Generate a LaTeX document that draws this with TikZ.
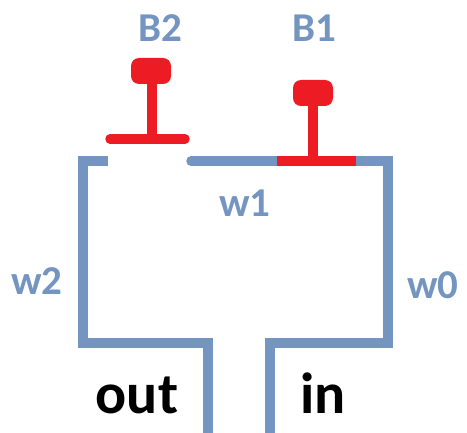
\documentclass[tikz,border=0pt]{standalone}
\usepackage{fontspec}
\usepackage{xcolor}
\setmainfont{Carlito}
\definecolor{wireblue}{RGB}{116,149,192}
\definecolor{btnred}{RGB}{237,28,36}

\begin{document}
\begin{tikzpicture}[x=1pt,y=-1pt,
    wire/.style={draw=wireblue, line width=9.5pt, miter limit=10},
    btn/.style={draw=btnred, line width=9.5pt},
    btnhead/.style={rectangle, fill=btnred, rounded corners=8pt, minimum width=40pt, minimum height=26pt, inner sep=0pt},
    bluelabel/.style={text=wireblue, font=\fontsize{41}{41}\selectfont\bfseries, inner sep=0pt},
    blacklabel/.style={text=black, font=\fontsize{58}{58}\selectfont\bfseries, inner sep=0pt}]
    \useasboundingbox (0,0) rectangle (467,433);

    % Wires
    \coordinate (w2end) at (108,161);
    \coordinate (w2top) at (83,161);
    \coordinate (w2low) at (83,343);
    \coordinate (outcorner) at (208,343);
    \coordinate (outend) at (208,433);
    \coordinate (w1start) at (191,161);
    \coordinate (w1end) at (277,161);
    \coordinate (w0start) at (356,161);
    \coordinate (w0top) at (388,161);
    \coordinate (w0low) at (388,343);
    \coordinate (incorner) at (270,343);
    \coordinate (inend) at (270,433);
    \draw[wire] (w2end) -- (w2top) -- (w2low) -- (outcorner) -- (outend);
    \draw[wire, line cap=round] (w1start) -- (w1end);
    \draw[wire] (w0start) -- (w0top) -- (w0low) -- (incorner) -- (inend);

    % Buttons
    \node[btnhead] (b2head) at (151,71) {};
    \node[btnhead] (b1head) at (313,93) {};
    \coordinate (b2left) at (110,139);
    \coordinate (b2right) at (185,139);
    \coordinate (b2foot) at (152,139);
    \coordinate (b1foot) at (313,161);
    \draw[btn, line cap=round] (b2left) -- (b2right);
    \draw[btn] (b2head.south -| b2foot) -- (b2foot);
    \draw[btn] (w1end) -- (w0start);
    \draw[btn] (b1head) -- (b1foot);

    % Labels
    \node[bluelabel] (labelb2) at (160,28) {B2};
    \node[bluelabel] (labelb1) at (314,28) {B1};
    \node[bluelabel] (labelw1) at (245,203) {w1};
    \node[bluelabel] (labelw2) at (37,281) {w2};
    \node[bluelabel] (labelw0) at (433,285) {w0};
    \node[blacklabel] (labelout) at (137,395) {out};
    \node[blacklabel] (labelin) at (323,393) {in};
\end{tikzpicture}
\end{document}
